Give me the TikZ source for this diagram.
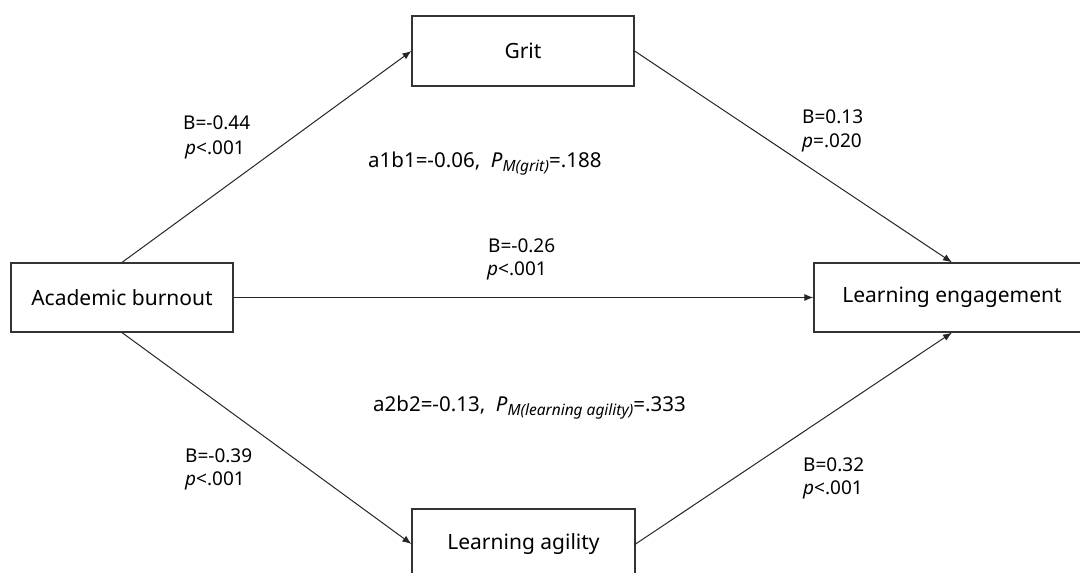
\documentclass[tikz,border=0pt]{standalone}
\usepackage{fontspec}
\setmainfont{Noto Sans}
\usetikzlibrary{arrows.meta}
\newcommand{\msub}[1]{\raisebox{-0.35ex}{\fontsize{15.5}{15.5}\selectfont\itshape #1}}
\begin{document}
\begin{tikzpicture}[x=1pt,y=1pt,
 box/.style={draw=black!80, line width=1.2pt, inner sep=0pt, font=\fontsize{21}{25}\selectfont},
 conn/.style={draw=black!85, line width=1pt, -{Latex[length=9pt,width=7pt]}},
 lab/.style={anchor=base west, inner sep=0pt, font=\fontsize{19}{22}\selectfont},
 ind/.style={anchor=base west, inner sep=0pt, font=\fontsize{20.5}{24}\selectfont}]
\useasboundingbox (0,0) rectangle (1080,573);
\clip (0,0) rectangle (1080,573);
\fill[white] (0,0) rectangle (1080,573);
\node[box, minimum width=222pt, minimum height=69pt] (ab) at (122,275.5) {Academic burnout};
\node[box, minimum width=222pt, minimum height=70pt] (grit) at (523,522) {Grit};
\node[box, minimum width=276pt, minimum height=69pt] (le) at (952,275.5) {Learning engagement};
\node[box, minimum width=223pt, minimum height=70pt] (la) at (523.5,29) {Learning agility};
\draw[conn] (ab.north) -- (grit.west);
\draw[conn] (grit.east) -- (le.north);
\draw[conn] (ab.east) -- (le.west);
\draw[conn] (ab.south) -- (la.west);
\draw[conn] (la.east) -- (le.south);
\node[lab] (l1a) at (183,443) {B=-0.44};
\node[lab] (l1b) at (185,418) {\textit{p}<.001};
\node[lab] (l2a) at (802,449) {B=0.13};
\node[lab] (l2b) at (802,425) {\textit{p}=.020};
\node[lab] (l3a) at (488,320) {B=-0.26};
\node[lab] (l3b) at (487,297) {\textit{p}<.001};
\node[lab] (l4a) at (185,110) {B=-0.39};
\node[lab] (l4b) at (185,87) {\textit{p}<.001};
\node[lab] (l5a) at (803,101) {B=0.32};
\node[lab] (l5b) at (803,78) {\textit{p}<.001};
\node[ind] (ind1) at (368,405) {a1b1=-0.06,\ \ \textit{P}\msub{M(grit)}=.188};
\node[ind] (ind2) at (373,161) {a2b2=-0.13,\ \ \textit{P}\msub{M(learning agility)}=.333};
\end{tikzpicture}
\end{document}
